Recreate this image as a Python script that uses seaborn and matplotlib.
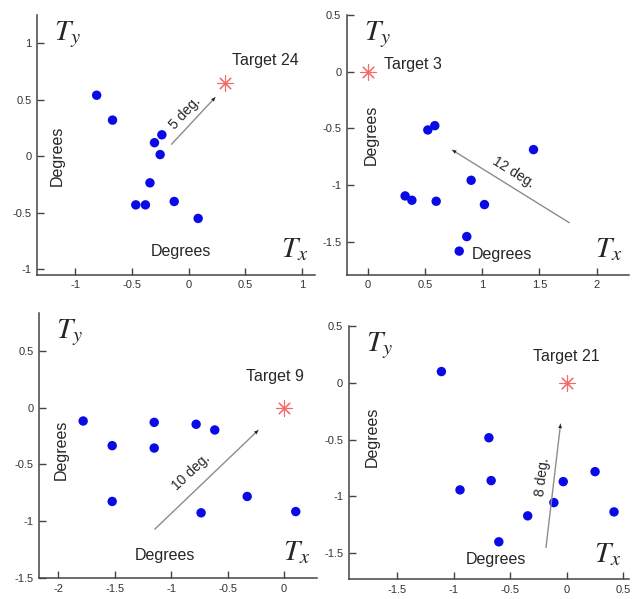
import numpy as np
import pandas as pd
import seaborn as sns
import matplotlib.pyplot as plt

# data (degrees)
t24_x = [-0.81, -0.67, -0.235, -0.30, -0.25, -0.34, -0.465, -0.38, -0.126, 0.085]
t24_y = [0.54, 0.32, 0.19, 0.12, 0.015, -0.235, -0.43, -0.43, -0.40, -0.55]
t3_x = [0.526, 0.587, 1.448, 0.904, 0.328, 0.387, 0.599, 1.02, 0.866, 0.80]
t3_y = [-0.513, -0.475, -0.686, -0.956, -1.094, -1.132, -1.141, -1.17, -1.452, -1.58]
t9_x = [-1.779, -1.150, -0.779, -0.614, -1.522, -1.150, -1.522, -0.327, -0.735, 0.103]
t9_y = [-0.118, -0.13, -0.147, -0.197, -0.335, -0.356, -0.826, -0.782, -0.926, -0.915]
t21_x = [-1.109, -0.688, -0.944, -0.668, -0.029, 0.253, -0.112, -0.344, 0.421, -0.60]
t21_y = [0.10, -0.484, -0.944, -0.862, -0.871, -0.783, -1.056, -1.173, -1.138, -1.402]

targets = ["Target 24", "Target 3", "Target 9", "Target 21"]
target_xy = [(0.32, 0.65), (0.0, 0.0), (0.0, 0.0), (0.0, 0.0)]
arrow_labels = ["5 deg.", "12 deg.", "10 deg.", "8 deg."]
arrow_start = [(-0.15, 0.106), (1.76, -1.33), (-1.145, -1.07), (-0.182, -1.452)]
arrow_end = [(0.235, 0.52), (0.74, -0.69), (-0.23, -0.2), (-0.053, -0.364)]

xticks = [[-1, -0.5, 0, 0.5, 1], [0, 0.5, 1, 1.5, 2], [-2, -1.5, -1, -0.5, 0], [-1.5, -1, -0.5, 0, 0.5]]
yticks = [[-1, -0.5, 0, 0.5, 1], [-1.5, -1, -0.5, 0, 0.5], [-1.5, -1, -0.5, 0, 0.5], [-1.5, -1, -0.5, 0, 0.5]]

sns.set_style("ticks")
plt.rcParams['font.family'] = ['Liberation Sans', 'DejaVu Sans']
plt.rcParams['mathtext.fontset'] = 'stix'

fig = plt.figure(figsize=(6.33, 5.99), dpi=100)

# panel layout: [left, bottom, width, height], limits and text spots
boxes = [[0.0585, 0.541, 0.439, 0.434], [0.548, 0.541, 0.4455, 0.434],
         [0.0616, 0.035, 0.439, 0.442], [0.551, 0.0334, 0.442, 0.422]]
xlims = [(-1.336, 1.115), (-0.18, 2.28), (-2.17, 0.29), (-1.93, 0.55)]
ylims = [(-1.05, 1.25), (-1.79, 0.5), (-1.5, 0.83), (-1.73, 0.5)]
tgt_text = [(0.38, 0.85), (0.145, 0.06), (-0.34, 0.27), (-0.294, 0.23)]
ydeg = [(-1.16, 0.0), (0.03, -0.56), (-1.97, -0.37), (-1.72, -0.475)]
xdeg = [(-0.065, -0.845), (1.17, -1.61), (-1.056, -1.30), (-0.626, -1.554)]
lbl_pos = [(-0.03, 0.38), (1.27, -0.89), (-0.82, -0.57), (-0.21, -0.83)]
lbl_rot = [47, -32, 43, 83]

xs = [t24_x, t3_x, t9_x, t21_x]
ys = [t24_y, t3_y, t9_y, t21_y]

for i in range(4):
    ax = fig.add_axes(boxes[i])
    df = pd.DataFrame({'x': xs[i], 'y': ys[i]})
    sns.scatterplot(data=df, x='x', y='y', ax=ax, color='#0a0ae6', s=46,
                    edgecolor='none', zorder=3)
    ax.scatter([target_xy[i][0]], [target_xy[i][1]], marker=(8, 2, 0), s=120,
               color='#f26a6a', linewidths=0.8, zorder=3)
    ax.set_xlim(xlims[i])
    ax.set_ylim(ylims[i])
    ax.set_xticks(xticks[i])
    ax.set_yticks(yticks[i])
    ax.set_xticklabels([f"{v:g}" for v in xticks[i]])
    ax.set_yticklabels([f"{v:g}" for v in yticks[i]])
    ax.tick_params(direction='in', length=5, width=1, color='#444444',
                   labelsize=8, labelcolor='#333333', pad=4)
    for s in ['top', 'right']:
        ax.spines[s].set_visible(False)
    for s in ['left', 'bottom']:
        ax.spines[s].set_color('#444444')
        ax.spines[s].set_linewidth(1.1)
    ax.set_xlabel('')
    ax.set_ylabel('')

    # arrow: gray shaft, small dark head
    ax.annotate('', xy=arrow_end[i], xytext=arrow_start[i],
                arrowprops=dict(arrowstyle='-', color='#8c8c8c', lw=1.0,
                                shrinkA=0, shrinkB=0))
    ax.annotate('', xy=arrow_end[i], xytext=arrow_start[i],
                arrowprops=dict(arrowstyle='-|>', color='#222222', lw=0,
                                mutation_scale=7, shrinkA=0, shrinkB=0))
    ax.text(lbl_pos[i][0], lbl_pos[i][1], arrow_labels[i], rotation=lbl_rot[i],
            fontsize=10, ha='center', va='center')
    ax.text(tgt_text[i][0], tgt_text[i][1], targets[i], fontsize=11.5,
            ha='left', va='center')
    ax.text(ydeg[i][0], ydeg[i][1], 'Degrees', rotation=90, fontsize=11.5,
            ha='center', va='center')
    ax.text(xdeg[i][0], xdeg[i][1], 'Degrees', fontsize=11.5,
            ha='center', va='center')
    ax.text(0.06, 0.985, '$T_y$', transform=ax.transAxes, fontsize=21,
            ha='left', va='top')
    ax.text(0.975, 0.045, '$T_x$', transform=ax.transAxes, fontsize=21,
            ha='right', va='bottom')

fig.savefig('out.png', dpi=100)
